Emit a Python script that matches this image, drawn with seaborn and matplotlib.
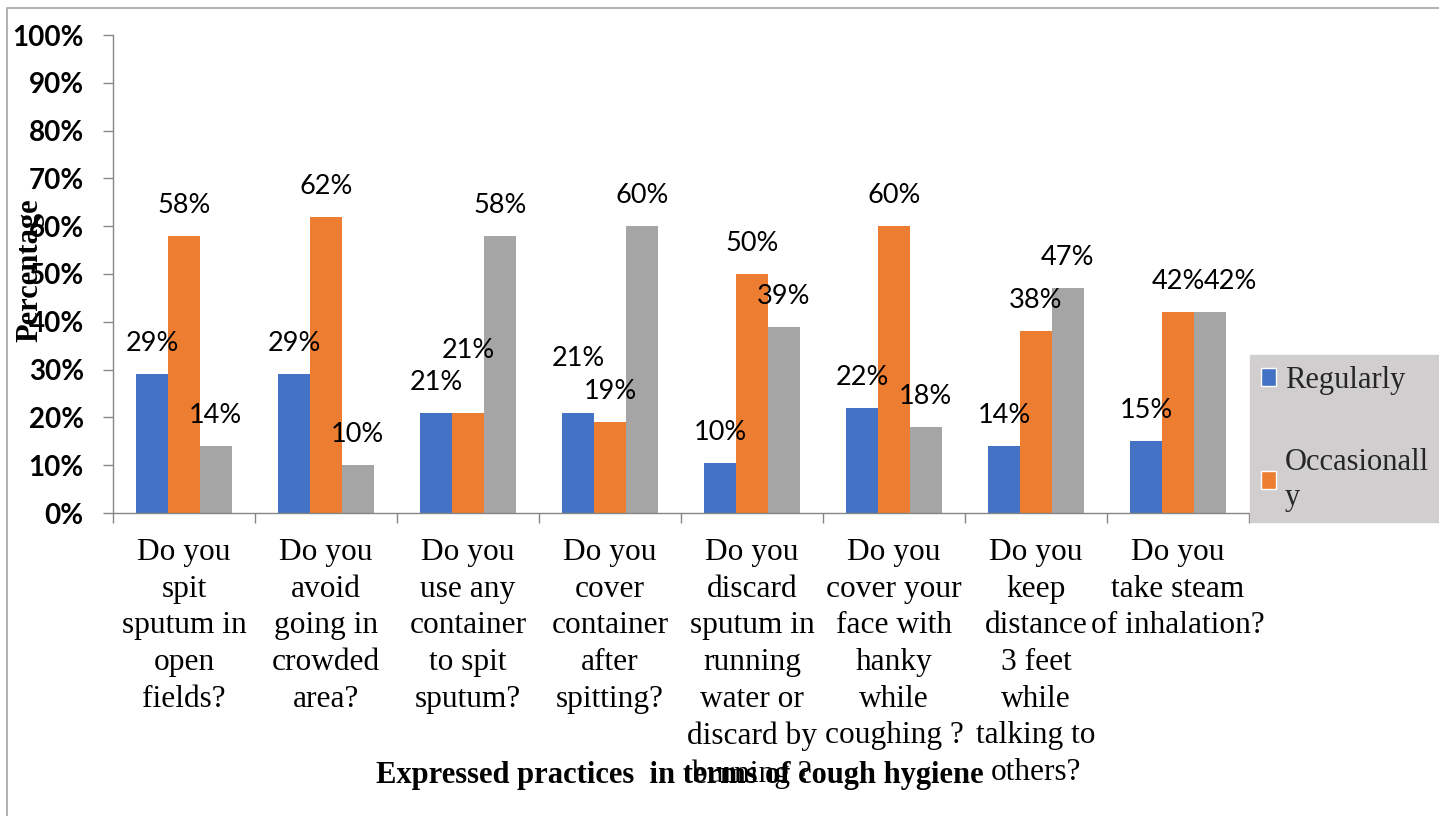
import numpy as np
import pandas as pd
import matplotlib
matplotlib.use("Agg")
import matplotlib.pyplot as plt
from matplotlib.patches import Patch, Rectangle
import seaborn as sns

questions = [
    "Do you\nspit\nsputum in\nopen\nfields?",
    "Do you\navoid\ngoing in\ncrowded\narea?",
    "Do you\nuse any\ncontainer\nto spit\nsputum?",
    "Do you\ncover\ncontainer\nafter\nspitting?",
    "Do you\ndiscard\nsputum in\nrunning\nwater or\ndiscard by\nburning ?",
    "Do you\ncover your\nface with\nhanky\nwhile\ncoughing ?",
    "Do you\nkeep\ndistance\n3 feet\nwhile\ntalking to\nothers?",
    "Do you\ntake steam\nof inhalation?",
]
series_names = ["Regularly", "Occasionally", "Never"]
regularly = [29, 29, 21, 21, 10.5, 22, 14, 15]
occasionally = [58, 62, 21, 19, 50, 60, 38, 42]
never = [14, 10, 58, 60, 39, 18, 47, 42]
colors = ["#4472C4", "#ED7D31", "#A5A5A5"]
yticks = [0, 10, 20, 30, 40, 50, 60, 70, 80, 90, 100]

# extra label nudges (points) to mimic the reference's label collision handling
label_nudge = {(1, 2): (0, 23), (0, 3): (0, 17), (2, 7): (15, 0)}

rows = []
for name, vals in zip(series_names, [regularly, occasionally, never]):
    for q, v in zip(questions, vals):
        rows.append({"question": q, "freq": name, "value": v})
df = pd.DataFrame(rows)

sns.set_theme(style="white")
W, H = 1439, 816
fig = plt.figure(figsize=(W / 100, H / 100), dpi=100)
ax = fig.add_axes([113 / W, 1 - 513 / H, (1249 - 113) / W, (513 - 35) / H])

sns.barplot(data=df, x="question", y="value", hue="freq", order=questions,
            hue_order=series_names, palette=colors, saturation=1,
            width=0.67, gap=0, legend=False, ax=ax, linewidth=0, errorbar=None)

ax.set_ylim(0, 100)
ax.set_xlim(-0.5, 7.5)
ax.set_yticks(yticks)
ax.set_yticklabels([f"{t}%" for t in yticks], fontfamily="Lato",
                   fontweight="bold", fontsize=20, color="black")
ax.tick_params(axis="y", length=7, width=1, color="#868686", pad=14, left=True)

ax.set_xticks(range(len(questions)))
ax.set_xticklabels(questions, fontfamily="Liberation Serif", fontsize=22.6,
                   color="black", linespacing=1.35)
ax.set_xticks(np.arange(-0.5, len(questions), 1), minor=True)
ax.tick_params(axis="x", which="major", length=0, pad=18)
ax.tick_params(axis="x", which="minor", length=7, width=1, color="#868686",
               bottom=True)

for s in ["top", "right"]:
    ax.spines[s].set_visible(False)
for s in ["left", "bottom"]:
    ax.spines[s].set_color("#868686")
    ax.spines[s].set_linewidth(1)

for si, cont in enumerate(ax.containers):
    for ci, bar in enumerate(cont):
        v = bar.get_height()
        dx, dy = label_nudge.get((si, ci), (0, 0))
        ax.annotate(f"{v:.0f}%", (bar.get_x() + bar.get_width() / 2, v),
                    xytext=(dx, 22 + dy), textcoords="offset points",
                    ha="center", va="center", fontfamily="Lato",
                    fontsize=19.5, color="black")

ax.set_xlabel("Expressed practices  in terms of cough hygiene",
              fontfamily="Liberation Serif", fontweight="bold", fontsize=22,
              color="black")
ax.xaxis.set_label_coords((680 - 113) / 1136, (513 - 776) / 478)
ax.xaxis.label.set_va("center")
ax.set_ylabel("Percentage", fontfamily="Liberation Serif", fontweight="bold",
              fontsize=22, color="black")
ax.yaxis.set_label_coords((30 - 113) / 1136, (513 - 270) / 478)
ax.yaxis.label.set_va("center")

handles = [Patch(facecolor=colors[0]), Patch(facecolor=colors[1])]
leg = fig.legend(handles, ["Regularly", "Occasionall\ny"],
                 loc="upper left", bbox_to_anchor=(1250 / W, 1 - 355 / H),
                 prop={"family": "Liberation Serif", "size": 22},
                 frameon=True, facecolor="#D0CECE", edgecolor="#D0CECE",
                 fancybox=False, framealpha=1, handlelength=0.5,
                 handleheight=0.5, handletextpad=0.3, labelspacing=1.75,
                 borderpad=0.35, borderaxespad=0)
for t in leg.get_texts():
    t.set_linespacing(1.25)

fig.patches.append(Rectangle((7 / W, -0.1), 1.2, 1 - 8 / H + 0.1,
                             transform=fig.transFigure, fill=False,
                             edgecolor="#A6A6A6", linewidth=1.2))

fig.savefig("out.png", dpi=100)
